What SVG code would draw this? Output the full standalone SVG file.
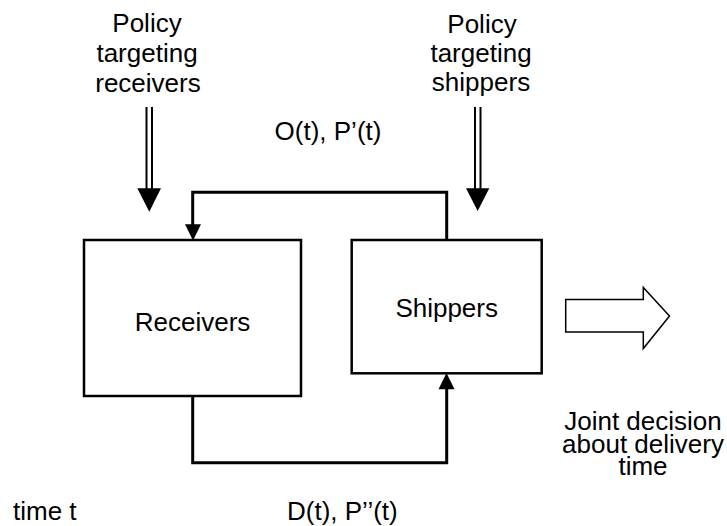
<svg xmlns="http://www.w3.org/2000/svg" width="727" height="526" viewBox="0 0 727 526">
<style>
text{font-family:"Liberation Sans",Arial,sans-serif;font-size:26px;fill:#000}
.box{fill:#fff;stroke:#000;stroke-width:2.5}
.conn{fill:none;stroke:#000;stroke-width:3}
.dbl{stroke:#000;stroke-width:2}
.head{fill:#000}
</style>
<rect width="727" height="526" fill="#fff"/>
<g id="receivers">
<rect class="box" x="84" y="240" width="217" height="156"/>
<text x="192.5" y="331" text-anchor="middle">Receivers</text>
</g>
<g id="shippers">
<rect class="box" x="351.7" y="240" width="190" height="133.3"/>
<text x="446.7" y="317" text-anchor="middle">Shippers</text>
</g>
<g id="policy-receivers">
<text x="148" text-anchor="middle"><tspan x="147" y="32">Policy</tspan><tspan x="147" y="62">targeting</tspan><tspan x="148" y="92">receivers</tspan></text>
</g>
<g id="policy-shippers">
<text x="481" text-anchor="middle"><tspan x="482" y="33">Policy</tspan><tspan x="481" y="62">targeting</tspan><tspan x="481" y="91">shippers</tspan></text>
</g>
<g id="joint-decision">
<path d="M565.7,299.5 H643.3 V287.5 L669.5,316 L643.3,348.5 V332 H565.7 Z" fill="#fff" stroke="#000" stroke-width="1.5"/>
<text text-anchor="middle"><tspan x="643" y="430">Joint decision</tspan><tspan x="643" y="452.5">about delivery</tspan><tspan x="643" y="475">time</tspan></text>
</g>
<g id="connectors">
<line class="dbl" x1="146.5" y1="107" x2="146.5" y2="190"/>
<line class="dbl" x1="152" y1="107" x2="152" y2="190"/>
<polygon class="head" points="137.3,188.3 161,188.3 149.3,211.7"/>
<line class="dbl" x1="475" y1="107" x2="475" y2="190"/>
<line class="dbl" x1="480.5" y1="107" x2="480.5" y2="190"/>
<polygon class="head" points="466,188.3 489.3,188.3 477.7,211"/>
<polyline class="conn" points="446.7,240 446.7,192.3 192.7,192.3 192.7,226"/>
<polygon class="head" points="185,224.3 201,224.3 193,240.5"/>
<polyline class="conn" points="192.7,396 192.7,462.7 446.7,462.7 446.7,387"/>
<polygon class="head" points="438.5,389.3 454.5,389.3 446.5,373"/>
</g>
<text x="328" y="140" text-anchor="middle">O(t), P’(t)</text>
<text x="13" y="520">time t</text>
<text x="287" y="520">D(t), P’’(t)</text>
</svg>
